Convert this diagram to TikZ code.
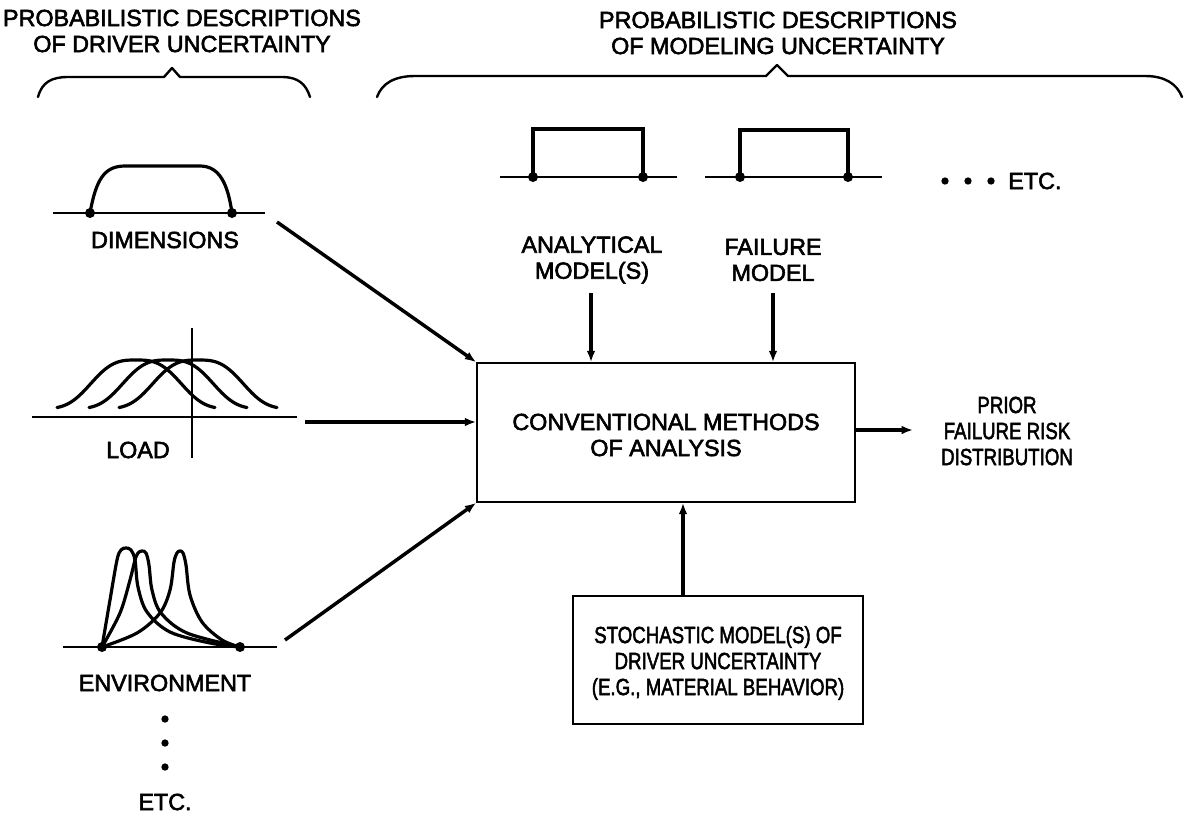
\documentclass[tikz,border=0pt]{standalone}
\usepackage{fontspec}
\setmainfont{Liberation Sans}[FakeBold=2.5]
\usetikzlibrary{arrows.meta}
\newcommand{\narrow}[1]{\scalebox{0.8}[1]{#1}}
\begin{document}
\begin{tikzpicture}[x=0.75pt,y=-0.75pt,
  lbl/.style={align=center, inner sep=0pt, font=\fontsize{17.5}{19.5}\selectfont},
  flow/.style={line width=2.6pt, -{Latex[length=8.5pt,width=6.5pt]}},
  frame/.style={draw, line width=1.2pt, inner sep=0pt},
  axis/.style={line width=1pt},
  curve/.style={line width=2.4pt, line cap=round, line join=round},
  pulse/.style={line width=3.4pt},
  knot/.style={circle, fill, inner sep=0pt, minimum size=7.5pt},
  dot/.style={circle, fill, inner sep=0pt, minimum size=5.5pt},
  brace/.style={line width=1.8pt, line cap=round, line join=round}]
\useasboundingbox (0,0) rectangle (1184,815);

% headings and their braces
\node[lbl] (ttlDriver) at (182,31) {PROBABILISTIC DESCRIPTIONS\\OF DRIVER UNCERTAINTY};
\node[lbl] (ttlModel) at (778,33) {PROBABILISTIC DESCRIPTIONS\\OF MODELING UNCERTAINTY};
\draw[brace] (38,97) .. controls (42,82) and (52,77) .. (68,77) -- (164,77) -- (172,68) -- (180,77)
  -- (282,77) .. controls (298,77) and (306,84) .. (310,97);
\draw[brace] (377,97) .. controls (382,83) and (395,76) .. (415,76) -- (766,76) -- (777,65) -- (788,76)
  -- (1145,76) .. controls (1165,76) and (1177,84) .. (1182,97);

% central analysis box and stochastic model box
\node[frame, minimum width=283.5pt, minimum height=104.25pt] (main) at (666,432.5) {};
\node[lbl] (mainTxt) at (666,435) {CONVENTIONAL METHODS\\OF ANALYSIS};
\node[frame, minimum width=217.5pt, minimum height=96pt] (stoch) at (718,660) {};
\node[lbl] (stochTxt) at (718,663) {\narrow{STOCHASTIC MODEL(S) OF}\\\narrow{DRIVER UNCERTAINTY}\\\narrow{(E.G., MATERIAL BEHAVIOR)}};

% output
\node[lbl] (prior) at (1007,431) {\narrow{PRIOR}\\\narrow{FAILURE RISK}\\\narrow{DISTRIBUTION}};
\coordinate (outEnd) at (913,430);
\draw[flow] (main.east |- outEnd) -- (outEnd);

% dimensions distribution
\draw[axis] (53,213) -- (265,213);
\node[knot] (dimL) at (90,213) {};
\node[knot] (dimR) at (232,213) {};
\draw[curve] (dimL.center) .. controls (96,180) and (104,166) .. (125,166) -- (200,166)
  .. controls (220,166) and (228,185) .. (dimR.center);
\node[lbl] (dimTxt) at (165,240) {DIMENSIONS};

% load distributions
\draw[axis] (32,417) -- (297,417);
\draw[axis] (192,328) -- (192,458);
\foreach \c in {136,168,198}
  \draw[curve] plot[domain=-79:79, samples=70] ({\c+\x}, {409-49*exp(-pow(abs(\x)/52,3))});
\node[lbl] (loadTxt) at (138,450) {LOAD};

% environment distributions
\draw[axis] (63,647) -- (277,647);
\node[knot] (envL) at (102,647) {};
\node[knot] (envR) at (240,647) {};
\draw[curve] plot[smooth, tension=0.55] coordinates {(102,647) (110,600) (117,560) (121,550) (126,548) (131,550) (135,560) (138,587) (147,612) (170,632) (210,643) (240,647)};
\draw[curve] plot[smooth, tension=0.55] coordinates {(102,647) (120,613) (130,580) (135,560) (138,553) (142,551) (146,553) (149,565) (152,590) (161,613) (187,633) (240,647)};
\draw[curve] plot[smooth, tension=0.55] coordinates {(102,647) (137,633) (160,613) (170,590) (174,562) (177,553) (180,551) (183,553) (186,565) (190,595) (202,622) (222,640) (240,647)};
\node[lbl] (envTxt) at (165,683) {ENVIRONMENT};
\node[dot] (vd1) at (165,719) {};
\node[dot] (vd2) at (165,743) {};
\node[dot] (vd3) at (165,767) {};
\node[lbl] (etcL) at (165,802) {ETC.};

% driver inputs
\coordinate (dimOut) at (277,222);
\coordinate (loadOut) at (305,422);
\coordinate (envOut) at (285,640);
\draw[flow] (dimOut) -- (main.north west);
\draw[flow] (loadOut) -- (loadOut -| main.west);
\draw[flow] (envOut) -- (main.south west);

% analytical model
\draw[axis] (500,177) -- (677,177);
\node[knot] (anL) at (533,177) {};
\node[knot] (anR) at (643,177) {};
\draw[pulse] (anL.center) -- (533,129) -- (643,129) -- (anR.center);
\node[lbl] (anTxt) at (592,260) {ANALYTICAL\\MODEL(S)};
\coordinate (anIn) at (591,293);
\draw[flow] (anIn) -- (anIn |- main.north);

% failure model
\draw[axis] (705,177) -- (882,177);
\node[knot] (faL) at (740,177) {};
\node[knot] (faR) at (848,177) {};
\draw[pulse] (faL.center) -- (740,130) -- (848,130) -- (faR.center);
\node[lbl] (faTxt) at (773,260) {FAILURE\\MODEL};
\coordinate (faIn) at (773,293);
\draw[flow] (faIn) -- (faIn |- main.north);

% further models
\node[dot] (hd1) at (945,181) {};
\node[dot] (hd2) at (968,181) {};
\node[dot] (hd3) at (991,181) {};
\node[lbl, anchor=west] (etcR) at (1008,181) {ETC.};

% stochastic model input
\coordinate (stIn) at (683,596);
\draw[flow] (stIn) -- (stIn |- main.south);
\end{tikzpicture}
\end{document}
